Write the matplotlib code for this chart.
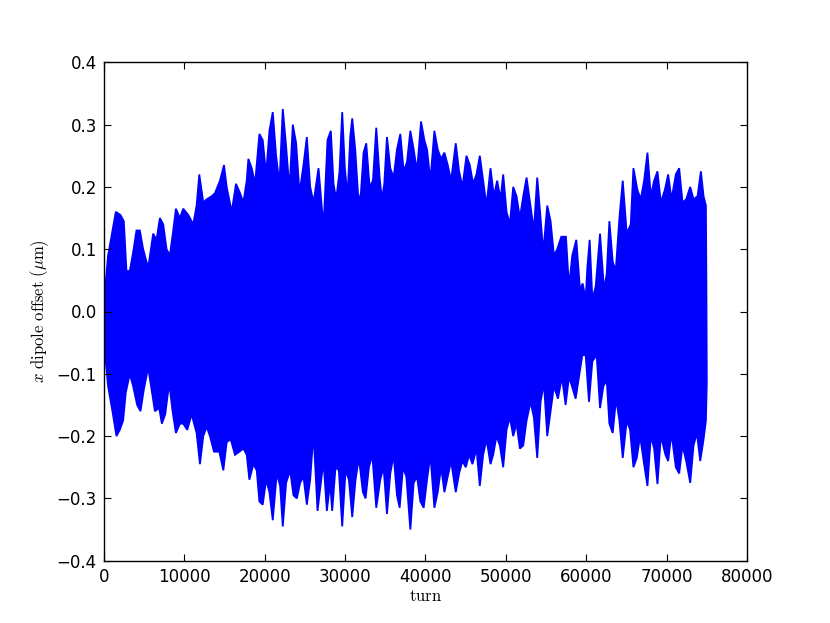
import matplotlib
matplotlib.use("Agg")
import matplotlib.pyplot as plt

plt.rcParams['mathtext.fontset'] = 'cm'
plt.rcParams['font.family'] = ['DejaVu Sans']

# Upper peaks (turn, x dipole offset in um)
upper_turn = [125, 540, 956, 1496, 2077, 2493, 2825, 3241, 3656, 4071, 4487, 4902, 5525, 6148, 6564,
              6979, 7395, 7810, 8225, 8641, 8973, 9472, 9887, 10510, 11133, 11549, 11881, 12379, 12795,
              13418, 13833, 14456, 14955, 15287, 15910, 16450, 16949, 17364, 17780, 17987, 18403, 18818,
              19358, 19774, 20189, 20605, 21020, 21435, 21851, 22266, 22681, 23097, 23512, 23928, 24343,
              24841, 25257, 25672, 26088, 26711,
              27330, 27828, 28243, 28576, 28908, 29324, 29656, 29988, 30320, 30653, 30902, 31276, 31691,
              31982, 32314, 32647, 33062, 33478, 33893, 34308, 34599, 34890, 35222, 35638, 36053, 36468,
              36884, 37299, 37715, 38130, 38545, 38961, 39459, 39875, 40207, 40622, 41121, 41536, 41952,
              42367, 42782, 43198, 43779, 44195, 44610, 45109, 45524, 45940, 46355, 46770, 47186, 47601,
              48100, 48515, 48930, 49346, 49678, 50093, 50509, 50924, 51340, 51755, 52170, 52586,
              53496, 53911, 54326, 54659, 55157, 55573, 55988, 56403, 56902, 57483, 57857, 58273, 58771,
              59228, 59560, 59934, 60142, 60433, 60765, 61181, 61721, 62219, 62551, 62884, 63299, 63673,
              64130, 64545, 65044, 65542, 65875, 66373, 66788, 67204, 67619, 68035, 68450, 68865, 69281,
              69779, 70195, 70610, 71150, 71566, 71981, 72438, 72937, 73352, 73850, 74266, 74598, 74889,
              74950]
upper_val = [0.03, 0.09, 0.12, 0.16, 0.155, 0.145, 0.065, 0.065, 0.095, 0.13, 0.13, 0.10, 0.07, 0.125, 0.115,
             0.15, 0.14, 0.10, 0.09, 0.13, 0.165, 0.15, 0.165, 0.155, 0.14, 0.17, 0.22, 0.175, 0.18,
             0.185, 0.19, 0.21, 0.235, 0.20, 0.16, 0.205, 0.19, 0.175, 0.21, 0.245, 0.23, 0.205,
             0.285, 0.275, 0.22, 0.29, 0.32, 0.25, 0.205, 0.325, 0.265, 0.195, 0.30, 0.27, 0.19,
             0.235, 0.28, 0.20, 0.175, 0.23,
             0.135, 0.275, 0.29, 0.205, 0.18, 0.225, 0.32, 0.23, 0.185, 0.28, 0.31, 0.26, 0.175,
             0.19, 0.255, 0.27, 0.20, 0.21, 0.295, 0.215, 0.18, 0.205, 0.28, 0.23, 0.215, 0.26,
             0.285, 0.225, 0.24, 0.29, 0.26, 0.225, 0.305, 0.275, 0.26, 0.21, 0.29, 0.26, 0.245,
             0.255, 0.235, 0.21, 0.27, 0.225, 0.20, 0.25, 0.235, 0.205, 0.22, 0.25, 0.21, 0.17,
             0.23, 0.185, 0.21, 0.18, 0.22, 0.16, 0.14, 0.20, 0.185, 0.15, 0.185, 0.215,
             0.13, 0.215, 0.15, 0.095, 0.17, 0.145, 0.09, 0.10, 0.12, 0.12, 0.04, 0.09, 0.115,
             0.035, 0.045, 0.02, 0.07, 0.115, 0.02, 0.04, 0.125, 0.035, 0.06, 0.145, 0.08, 0.065,
             0.15, 0.21, 0.125, 0.14, 0.23, 0.195, 0.18, 0.21, 0.255, 0.185, 0.21, 0.225, 0.175,
             0.195, 0.22, 0.18, 0.22, 0.23, 0.175, 0.18, 0.20, 0.18, 0.185, 0.225, 0.185, 0.17,
             0.045]

# Lower peaks (turn, x dipole offset in um)
lower_turn = [125, 540, 1081, 1579, 1994, 2410, 2742, 3241, 3656, 4154, 4570, 4985, 5525, 6065, 6356,
              6896, 7228, 7644, 8142, 8558, 8973, 9472, 9887, 10385, 10926, 11549, 11964, 12379, 12795,
              13210, 13709, 14373, 14872, 15287, 15786, 16326, 16866, 17364, 17780, 18112, 18610, 19026,
              19358, 19774, 20189, 20605, 21020, 21519, 21934, 22266, 22681, 23180, 23595, 24011, 24426,
              24841, 25257, 25672, 26088, 26586,
              27330, 27745, 28160, 28410, 28825, 29240, 29656, 30071, 30487, 30902, 31317, 31733, 32231,
              32564, 32979, 33394, 33893, 34391, 34807, 35222, 35638, 36053, 36468, 36801, 37216, 37632,
              38130, 38545, 38961, 39376, 39792, 40207, 40622, 41121, 41536, 41952, 42367, 42782, 43198,
              43779, 44195, 44610, 45026, 45441, 45857, 46355, 46770, 47186, 47601, 48100, 48432, 48847,
              49263, 49678, 50093, 50509, 50924, 51340, 51755, 52170, 52586,
              53080, 53496, 53911, 54326, 54742, 55157, 55573, 55988, 56486, 56985, 57442, 57857, 58231,
              58688, 59104, 59519, 59934, 60350, 60765, 61305, 61721, 62136, 62551, 62884, 63299, 63715,
              64130, 64545, 65044, 65459, 65875, 66290, 66705, 67204, 67619, 68035, 68450, 68865, 69281,
              69862, 70195, 70610, 71150, 71566, 71981, 72438, 72937, 73352, 73767, 74183, 74598, 74889,
              75000]
lower_val = [-0.063, -0.12, -0.16, -0.20, -0.19, -0.175, -0.13, -0.10, -0.12, -0.15, -0.16, -0.125, -0.09, -0.135, -0.16,
             -0.155, -0.18, -0.165, -0.115, -0.16, -0.195, -0.18, -0.18, -0.19, -0.165, -0.195, -0.245, -0.20, -0.185,
             -0.20, -0.225, -0.225, -0.255, -0.21, -0.205, -0.23, -0.225, -0.22, -0.23, -0.27, -0.245, -0.255,
             -0.305, -0.31, -0.27, -0.29, -0.335, -0.26, -0.28, -0.345, -0.275, -0.255, -0.295, -0.30, -0.275,
             -0.265, -0.31, -0.27, -0.195, -0.32,
             -0.24, -0.32, -0.275, -0.32, -0.25, -0.255, -0.345, -0.255, -0.27, -0.33, -0.27, -0.235, -0.29,
             -0.30, -0.25, -0.23, -0.315, -0.27, -0.25, -0.325, -0.26, -0.23, -0.295, -0.315, -0.25, -0.265,
             -0.35, -0.275, -0.265, -0.305, -0.315, -0.27, -0.23, -0.315, -0.29, -0.25, -0.29, -0.265, -0.24,
             -0.29, -0.26, -0.24, -0.25, -0.23, -0.245, -0.22, -0.28, -0.23, -0.205, -0.245, -0.23, -0.20,
             -0.215, -0.25, -0.19, -0.17, -0.20, -0.18, -0.22, -0.215, -0.175,
             -0.145, -0.17, -0.235, -0.145, -0.115, -0.20, -0.16, -0.12, -0.14, -0.105, -0.15, -0.105, -0.12,
             -0.14, -0.105, -0.07, -0.07, -0.145, -0.08, -0.07, -0.155, -0.12, -0.11, -0.18, -0.195, -0.14,
             -0.175, -0.235, -0.175, -0.19, -0.25, -0.235, -0.20, -0.245, -0.28, -0.20, -0.22, -0.277, -0.20,
             -0.23, -0.24, -0.195, -0.25, -0.26, -0.215, -0.24, -0.275, -0.215, -0.195, -0.24, -0.205, -0.175,
             -0.115]

x_ticks = [0, 10000, 20000, 30000, 40000, 50000, 60000, 70000, 80000]
y_ticks = [-0.4, -0.3, -0.2, -0.1, 0.0, 0.1, 0.2, 0.3, 0.4]

# outline of the densely oscillating trace: upper peaks forward, lower peaks backward
poly_t = [0] + upper_turn + lower_turn[::-1] + [0]
poly_v = [0.0] + upper_val + lower_val[::-1] + [0.0]

fig = plt.figure(figsize=(8.3, 6.23), dpi=100)
ax = fig.add_axes([0.125, 0.1, 0.775, 0.8])
ax.fill(poly_t, poly_v, facecolor='#0000ff', edgecolor='#0000ff', lw=1.3, joinstyle='miter')

ax.set_xlim(0, 80000)
ax.set_ylim(-0.4, 0.4)
ax.set_xticks(x_ticks)
ax.set_yticks(y_ticks)
ax.set_xticklabels([str(t) for t in x_ticks])
ax.set_yticklabels(['\u22120.4', '\u22120.3', '\u22120.2', '\u22120.1', '0.0', '0.1', '0.2', '0.3', '0.4'])
ax.tick_params(direction='in', top=True, right=True, length=5, width=0.8, labelsize=12, pad=5)
for s in ax.spines.values():
    s.set_linewidth(1.0)
ax.set_xlabel(r'$\mathrm{turn}$', fontsize=12, labelpad=1)
ax.set_ylabel(r'$x\ \mathrm{dipole\ offset}\ (\mu\mathrm{m})$', fontsize=12, labelpad=4)

fig.savefig('out.png', dpi=100)
